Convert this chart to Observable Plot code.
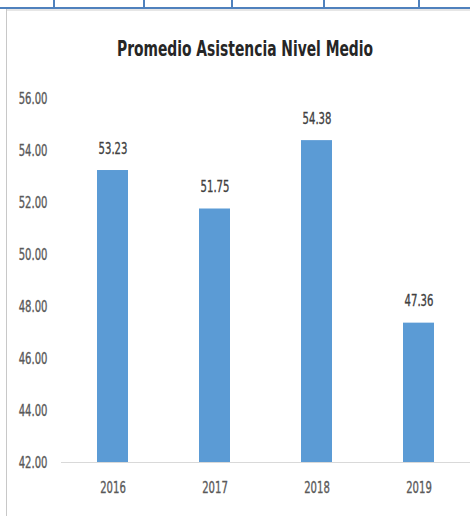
<!DOCTYPE html>
<html>
<head>
<meta charset="utf-8">
<script src="https://cdn.jsdelivr.net/npm/d3@7"></script>
<script src="https://cdn.jsdelivr.net/npm/@observablehq/plot@0.6"></script>
<style>
  html, body { margin: 0; padding: 0; background: #fff; }
  #wrap { position: relative; width: 470px; height: 516px; overflow: hidden; background: #fff; }
  .bl { position: absolute; background: #4F81BD; }
  #frameL { position: absolute; left: 6px; top: 9px; width: 1px; height: 507px; background: #c8c8c8; }
  #frameT { position: absolute; left: 6px; top: 9px; width: 464px; height: 2px; background: #e6e6e6; }
  #title { position: absolute; left: 10px; width: 470px; top: 36px; text-align: center;
    font-family: "DejaVu Sans Condensed", "Liberation Sans Narrow", sans-serif; font-weight: bold;
    font-size: 22px; line-height: 26px; color: #262626; transform: scaleX(0.7); transform-origin: 50% 0; }
  #chart { position: absolute; left: 0; top: 0; }
</style>
</head>
<body>
<div id="wrap">
  <div class="bl" style="left:0;top:7px;width:470px;height:2px"></div>
  <div class="bl" style="left:53px;top:0;width:2px;height:8px"></div>
  <div class="bl" style="left:143px;top:0;width:2px;height:8px"></div>
  <div class="bl" style="left:231px;top:0;width:2px;height:8px"></div>
  <div class="bl" style="left:323px;top:0;width:2px;height:8px"></div>
  <div class="bl" style="left:418px;top:0;width:2px;height:8px"></div>
  <div id="frameT"></div>
  <div id="frameL"></div>
  <div id="chart"></div>
  <div id="title">Promedio Asistencia Nivel Medio</div>
</div>
<script>
const years = ["2016", "2017", "2018", "2019"];
const values = [53.23, 51.75, 54.38, 47.36];
const yTicks = [42, 44, 46, 48, 50, 52, 54, 56];
const title = "Promedio Asistencia Nivel Medio";

const data = years.map((y, i) => ({year: y, value: values[i]}));
const font = "'DejaVu Sans Condensed', 'Liberation Sans Narrow', sans-serif";

const chart = Plot.plot({
  width: 470,
  height: 516,
  marginTop: 98,
  marginBottom: 54,
  marginLeft: 61,
  marginRight: 0,
  style: {fontFamily: font, background: "transparent", overflow: "visible"},
  x: {domain: years, paddingInner: 0.7, paddingOuter: 0.35, label: null},
  y: {domain: [42, 56], label: null},
  marks: [
    Plot.barY(data, {x: "year", y1: 42, y2: "value", fill: "#5B9BD5"}),
    Plot.ruleY([42], {stroke: "#d9d9d9", strokeWidth: 1}),
    Plot.axisY({ticks: yTicks, tickFormat: d3.format(".2f"), tickSize: 0, tickPadding: 14,
      fontSize: 16, fill: "#595959", label: null}),
    Plot.axisX({tickSize: 0, tickPadding: 19, fontSize: 16, fill: "#595959", label: null}),
    Plot.text(data, {x: "year", y: "value", text: d => d3.format(".2f")(d.value),
      lineAnchor: "bottom", dy: -17, fontSize: 16, fill: "#404040"})
  ]
});
document.getElementById("chart").appendChild(chart);
// condense glyphs horizontally (reference uses a narrow face) and thicken slightly
chart.querySelectorAll("text").forEach(el => {
  const L = el.getComputedTextLength();
  if (L > 0) {
    el.setAttribute("textLength", (L * 0.7).toFixed(1));
    el.setAttribute("lengthAdjust", "spacingAndGlyphs");
  }
  const fill = getComputedStyle(el).fill;
  el.style.stroke = fill;
  el.style.strokeWidth = "0.35px";
});
</script>
</body>
</html>
